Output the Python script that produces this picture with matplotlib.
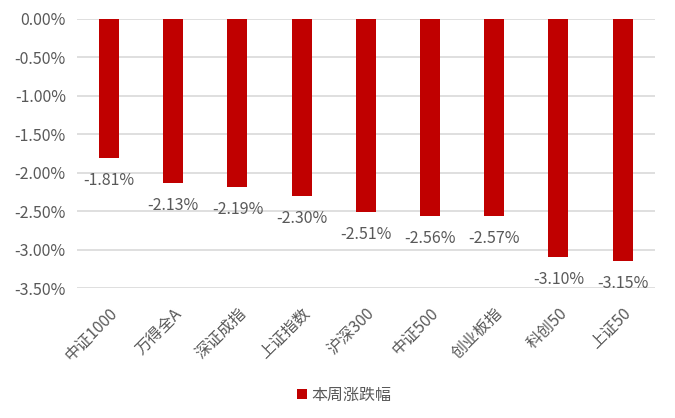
import matplotlib
matplotlib.use("Agg")
import matplotlib.pyplot as plt
import matplotlib.ticker as mticker
import numpy as np

plt.rcParams["font.family"] = ["Noto Sans CJK SC", "DejaVu Sans"]

names = ["中证1000", "万得全A", "深证成指", "上证指数", "沪深300", "中证500", "创业板指", "科创50", "上证50"]
change = [-1.81, -2.13, -2.19, -2.30, -2.51, -2.56, -2.57, -3.10, -3.15]

grey = "#595959"
red = "#c00000"

fig = plt.figure(figsize=(6.75, 4.18), dpi=100)
ax = fig.add_axes([0.114, 0.311, 0.856, 0.644])

x = np.arange(len(names))
bars = ax.bar(x, change, width=0.31, color=red, label="本周涨跌幅", zorder=3)

for xi, v in zip(x, change):
    ax.annotate(f"{v:.2f}%", (xi, v), xytext=(0, -10), textcoords="offset points",
                ha="center", va="top", fontsize=11.5, color=grey)

ax.set_ylim(-3.5, 0)
ax.set_xlim(-0.5, len(names) - 0.5)
ax.set_yticks(np.arange(-3.5, 0.01, 0.5))
ax.yaxis.set_major_formatter(mticker.FuncFormatter(lambda v, p: f"{v:.2f}%"))
ax.grid(axis="y", color="#d9d9d9", linewidth=1.2, zorder=0)
ax.set_xticks(x)
ax.set_xticklabels(names, rotation=45, ha="right", va="top", rotation_mode="anchor")
ax.tick_params(axis="both", length=0, labelsize=11.5, colors=grey)
ax.tick_params(axis="x", pad=12)
ax.tick_params(axis="y", pad=8)
for s in ax.spines.values():
    s.set_visible(False)

fig.legend(loc="lower center", bbox_to_anchor=(0.51, 0.0), frameon=False, fontsize=11.5,
           handlelength=0.6, handleheight=0.6, handletextpad=0.3, labelcolor=grey)

fig.savefig("out.png", dpi=100)
